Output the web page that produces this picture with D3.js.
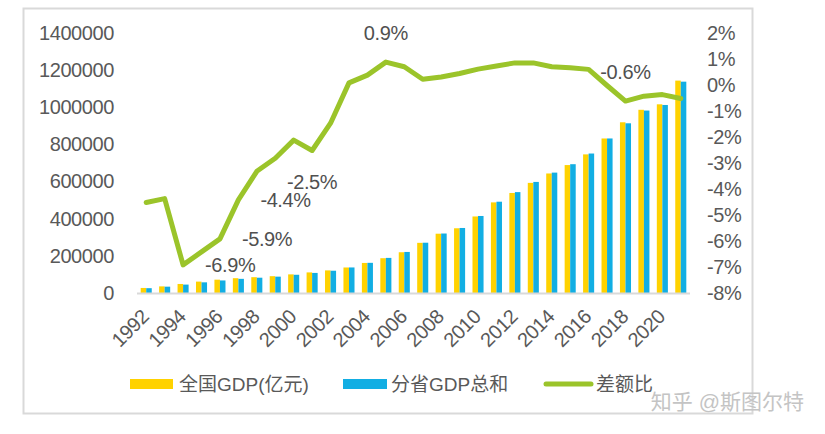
<!DOCTYPE html>
<html>
<head>
<meta charset="utf-8">
<script src="https://cdn.jsdelivr.net/npm/d3@7/dist/d3.min.js"></script>
<style>
  html, body { margin: 0; padding: 0; background: #ffffff; }
  svg { display: block; }
  text { font-family: "Liberation Sans", "Noto Sans CJK SC", sans-serif; }
</style>
</head>
<body>
<svg id="chart" width="825" height="434"></svg>
<script>
// ---------- data ----------
const years = ["1992","1993","1994","1995","1996","1997","1998","1999","2000","2001",
               "2002","2003","2004","2005","2006","2007","2008","2009","2010","2011",
               "2012","2013","2014","2015","2016","2017","2018","2019","2020","2021"];
// 全国GDP (亿元)
const nationalGDP = [27195, 35673, 48638, 61340, 71814, 79715, 85196, 90564, 100280, 110863,
                     121717, 137422, 161840, 187319, 219439, 270092, 319245, 348518, 412119, 487940,
                     538580, 592963, 643563, 688858, 746395, 832036, 919281, 986515, 1015986, 1143670];
// 分省GDP总和 (亿元)
const provincialGDP = [25966, 34121, 45282, 57414, 67577, 76208, 82367, 88019, 98144, 108091,
                       119940, 137559, 162471, 189005, 221019, 270740, 320299, 350121, 414715, 491600,
                       543266, 598122, 648197, 693542, 751023, 832119, 913765, 982470, 1012430, 1137952];
// 差额比 (%)
const diffRatio = [-4.5, -4.35, -6.9, -6.4, -5.9, -4.4, -3.3, -2.8, -2.1, -2.5,
                   -1.45, 0.1, 0.4, 0.9, 0.72, 0.24, 0.33, 0.46, 0.63, 0.75,
                   0.87, 0.87, 0.72, 0.68, 0.62, 0.0, -0.6, -0.41, -0.35, -0.5];
const xTickLabels = ["1992","1994","1996","1998","2000","2002","2004","2006","2008","2010",
                     "2012","2014","2016","2018","2020"];
const leftTicks = [0, 200000, 400000, 600000, 800000, 1000000, 1200000, 1400000];
const rightTicks = [-8, -7, -6, -5, -4, -3, -2, -1, 0, 1, 2];
// labelled points on the line: year, placement
const pointLabels = [
  { year: "1994", pos: "right" },
  { year: "1996", pos: "right" },
  { year: "1997", pos: "right" },
  { year: "2001", pos: "below" },
  { year: "2005", pos: "above" },
  { year: "2018", pos: "above" }
];
const seriesNames = ["全国GDP(亿元)", "分省GDP总和", "差额比"];
const colors = { national: "#FFD200", provincial: "#12AEE3", line: "#9BC42A" };

// ---------- chart ----------
const svg = d3.select("#chart");
const textColor = "#595959";
const fontSize = 20;

// outer frame
svg.append("rect")
  .attr("x", 23.5).attr("y", 8.5).attr("width", 729).attr("height", 405)
  .attr("fill", "none").attr("stroke", "#d9d9d9").attr("stroke-width", 2);

const plotLeft = 137, plotRight = 690, plotTop = 33, plotBottom = 293;

const x = d3.scaleBand().domain(years).range([plotLeft, plotRight])
  .paddingInner(0.4).paddingOuter(0.2);
const x1 = d3.scaleBand().domain(["national", "provincial"]).range([0, x.bandwidth()]);
const yL = d3.scaleLinear().domain([0, 1400000]).range([plotBottom, plotTop]);
const yR = d3.scaleLinear().domain([-8, 2]).range([plotBottom + 0.5, plotTop + 0.5]);

// bars
const barData = years.map((yr, i) => ({ yr, national: nationalGDP[i], provincial: provincialGDP[i] }));
const groups = svg.append("g").selectAll("g").data(barData).join("g")
  .attr("transform", d => `translate(${x(d.yr)},0)`);
groups.selectAll("rect")
  .data(d => ["national", "provincial"].map(k => ({ k, v: d[k] })))
  .join("rect")
  .attr("x", d => x1(d.k))
  .attr("y", d => yL(d.v))
  .attr("width", x1.bandwidth())
  .attr("height", d => yL(0) - yL(d.v))
  .attr("fill", d => colors[d.k]);

// baseline
svg.append("line")
  .attr("x1", plotLeft).attr("x2", plotRight)
  .attr("y1", plotBottom + 0.5).attr("y2", plotBottom + 0.5)
  .attr("stroke", "#d9d9d9").attr("stroke-width", 2);

// left axis
const leftAxis = svg.append("g").attr("transform", "translate(120,0)")
  .call(d3.axisLeft(yL).tickValues(leftTicks).tickFormat(d3.format("d")).tickSize(0).tickPadding(6));
leftAxis.select(".domain").remove();
leftAxis.selectAll("text")
  .attr("fill", textColor).style("font-size", fontSize + "px").style("letter-spacing", "-0.4px")
  .attr("font-family", null);

// right axis
const rightAxis = svg.append("g").attr("transform", "translate(701,0)")
  .call(d3.axisRight(yR).tickValues(rightTicks).tickFormat(d => d + "%").tickSize(0).tickPadding(6));
rightAxis.select(".domain").remove();
rightAxis.selectAll("text")
  .attr("fill", textColor).style("font-size", fontSize + "px").style("letter-spacing", "-0.4px");

// bottom axis
const bottomAxis = svg.append("g").attr("transform", `translate(0,${plotBottom})`)
  .call(d3.axisBottom(x).tickValues(xTickLabels).tickSize(0));
bottomAxis.select(".domain").remove();
bottomAxis.selectAll("text")
  .attr("fill", textColor).style("font-size", fontSize + "px").style("letter-spacing", "-0.4px")
  .attr("text-anchor", "end")
  .attr("x", 0).attr("y", 0).attr("dy", "0")
  .attr("transform", "translate(4,25) rotate(-45)");

// line
const lineData = years.map((yr, i) => ({ yr, v: diffRatio[i] }));
const line = d3.line().x(d => x(d.yr) + x.bandwidth() / 2).y(d => yR(d.v));
svg.append("path").datum(lineData)
  .attr("d", line).attr("fill", "none")
  .attr("stroke", colors.line).attr("stroke-width", 5)
  .attr("stroke-linejoin", "round").attr("stroke-linecap", "round");

// point labels
const fmt = v => v.toFixed(1) + "%";
svg.append("g").selectAll("text").data(pointLabels).join("text")
  .attr("x", d => {
    const cx = x(d.year) + x.bandwidth() / 2;
    return d.pos === "right" ? cx + 22 : cx;
  })
  .attr("y", d => {
    const cy = yR(diffRatio[years.indexOf(d.year)]);
    if (d.pos === "above") return cy - 29;
    if (d.pos === "below") return cy + 31;
    return cy;
  })
  .attr("dy", "0.35em")
  .attr("text-anchor", d => d.pos === "right" ? "start" : "middle")
  .attr("fill", "#505050").style("font-size", fontSize + "px").style("letter-spacing", "-0.4px")
  .text(d => fmt(diffRatio[years.indexOf(d.year)]));

// legend
const legendY = 384;
const legend = svg.append("g");
legend.append("rect").attr("x", 130).attr("y", legendY - 5).attr("width", 43).attr("height", 10).attr("fill", colors.national);
legend.append("text").attr("x", 179).attr("y", legendY).attr("dy", "0.35em")
  .attr("fill", textColor).style("font-size", "19px").text(seriesNames[0]);
legend.append("rect").attr("x", 343).attr("y", legendY - 5).attr("width", 44).attr("height", 10).attr("fill", colors.provincial);
legend.append("text").attr("x", 391).attr("y", legendY).attr("dy", "0.35em")
  .attr("fill", textColor).style("font-size", "19px").text(seriesNames[1]);
legend.append("line").attr("x1", 546).attr("x2", 591).attr("y1", legendY).attr("y2", legendY)
  .attr("stroke", colors.line).attr("stroke-width", 5).attr("stroke-linecap", "round");
legend.append("text").attr("x", 596).attr("y", legendY).attr("dy", "0.35em")
  .attr("fill", textColor).style("font-size", "19px").text(seriesNames[2]);

// watermark
svg.append("text").attr("x", 804).attr("y", 402).attr("dy", "0.35em")
  .attr("text-anchor", "end")
  .attr("fill", "#c4c4c4").style("font-size", "21px")
  .text("知乎 @斯图尔特");
</script>
</body>
</html>
